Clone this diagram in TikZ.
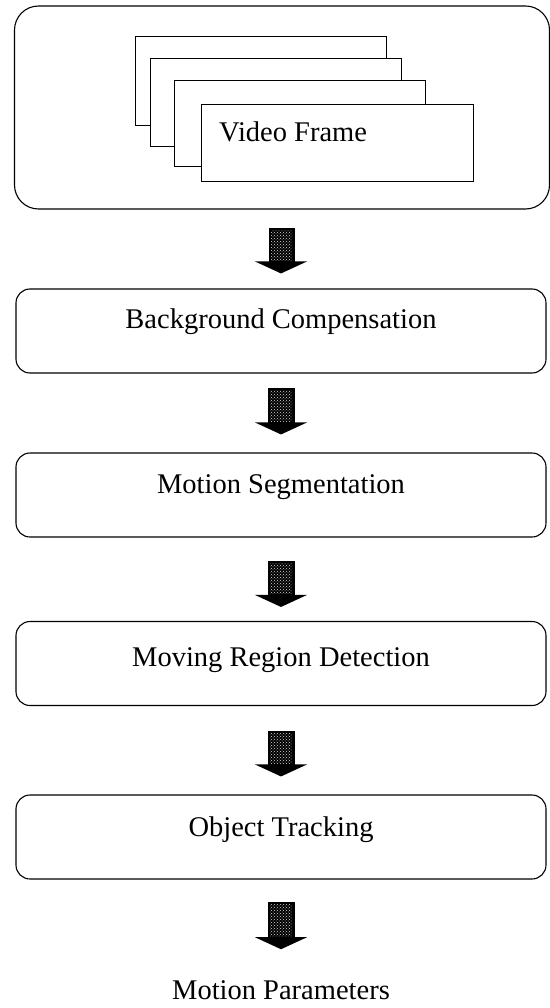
\documentclass[tikz,border=0pt]{standalone}
\usepackage{fontspec}
\setmainfont{Liberation Serif}
\usetikzlibrary{calc,patterns}

\tikzset{
    stage/.style={draw, rounded corners=14pt, line width=1.1pt, minimum width=530pt, minimum height=84pt, inner sep=0pt},
    sheet/.style={draw, fill=white, line width=0.9pt, inner sep=0pt},
    label/.style={font=\fontsize{28.5}{34}\selectfont, inner sep=0pt},
    shaft/.style={draw=black, fill=black, line width=1pt},
    speckle/.style={pattern=crosshatch dots, pattern color=white!85!black}
}

% block arrow from one box to the next
\newcommand{\flowarrow}[4]{%
    \path ([yshift=-#2pt]#1.south) coordinate (top) ([yshift=#4pt]#3.north) coordinate (tip);
    \draw[shaft] ($(top)+(-13,0)$) rectangle ($(tip)+(13,12)$);
    \fill[speckle] ($(top)+(-11,-2)$) rectangle ($(tip)+(11,13)$);
    \fill[black] ($(tip)+(-26,12)$) -- (tip) -- ($(tip)+(26,12)$) -- cycle;
}

\begin{document}
\begin{tikzpicture}[x=1pt, y=1pt]
    \useasboundingbox (0,0) rectangle (549,-1008);

    % video frames
    \node[draw, rounded corners=24pt, line width=1.1pt, minimum width=535pt, minimum height=203pt] (video) at (282,-107.5) {};
    \node[sheet, minimum width=251pt, minimum height=89pt] (f1) at (260.5,-80.5) {};
    \node[sheet, minimum width=251pt, minimum height=88pt] (f2) at (275.5,-102) {};
    \node[sheet, minimum width=251pt, minimum height=86pt] (f3) at (299.5,-123) {};
    \node[sheet, minimum width=272pt, minimum height=77pt] (f4) at (337,-142.5) {};
    \node[label, anchor=west] (vf) at (219,-132) {Video Frame};

    % processing stages
    \node[stage] (bc) at (281,-331) {};
    \node[label] (bct) at ([yshift=9pt]bc.center) {Background Compensation};

    \node[stage] (ms) at (281,-495) {};
    \node[label] (mst) at ([yshift=8pt]ms.center) {Motion Segmentation};

    \node[stage] (mrd) at (281,-663.5) {};
    \node[label] (mrdt) at ([yshift=3pt]mrd.center) {Moving Region Detection};

    \node[stage] (ot) at (281,-837) {};
    \node[label] (ott) at ([yshift=7pt]ot.center) {Object Tracking};

    \node[label] (mp) at (281,-990) {Motion Parameters};

    % arrows
    \flowarrow{video}{19}{bc}{15}
    \flowarrow{bc}{15}{ms}{18}
    \flowarrow{ms}{24}{mrd}{14}
    \flowarrow{mrd}{25}{ot}{18}
    \flowarrow{ot}{23}{mp}{31}
\end{tikzpicture}
\end{document}
